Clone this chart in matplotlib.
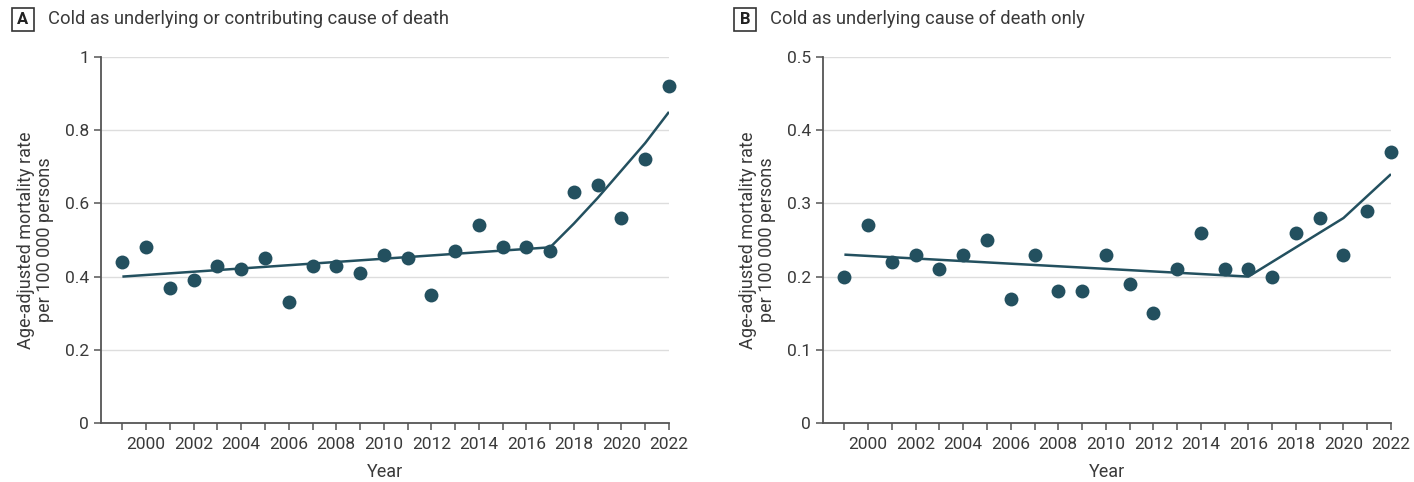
import matplotlib
matplotlib.use("Agg")
import matplotlib.pyplot as plt
from matplotlib.patches import Rectangle

plt.rcParams['font.family'] = ['Roboto', 'DejaVu Sans']

years = list(range(1999, 2023))

# Panel A: cold as underlying or contributing cause
rate_a = [0.44, 0.48, 0.37, 0.39, 0.43, 0.42, 0.45, 0.33, 0.43, 0.43, 0.41, 0.46,
          0.45, 0.35, 0.47, 0.54, 0.48, 0.48, 0.47, 0.63, 0.65, 0.56, 0.72, 0.92]
trend_a_years = [1999, 2017, 2018, 2019, 2020, 2021, 2022]
trend_a = [0.40, 0.48, 0.545, 0.615, 0.69, 0.765, 0.85]

# Panel B: cold as underlying cause only
rate_b = [0.20, 0.27, 0.22, 0.23, 0.21, 0.23, 0.25, 0.17, 0.23, 0.18, 0.18, 0.23,
          0.19, 0.15, 0.21, 0.26, 0.21, 0.21, 0.20, 0.26, 0.28, 0.23, 0.29, 0.37]
trend_b_years = [1999, 2016, 2020, 2022]
trend_b = [0.23, 0.20, 0.28, 0.34]

panels = [
    ("A", "Cold as underlying or contributing cause of death", rate_a,
     trend_a_years, trend_a, 1.0, [0, 0.2, 0.4, 0.6, 0.8, 1.0],
     ["0", "0.2", "0.4", "0.6", "0.8", "1"]),
    ("B", "Cold as underlying cause of death only", rate_b,
     trend_b_years, trend_b, 0.5, [0, 0.1, 0.2, 0.3, 0.4, 0.5],
     ["0", "0.1", "0.2", "0.3", "0.4", "0.5"]),
]

DOT = "#23505f"
AXC = "#555555"
TXT = "#3a3a3a"

fig = plt.figure(figsize=(14.14, 4.82), dpi=100)
lefts = [101 / 1414, 823 / 1414]
W, H = 1414, 482

for left, (letter, title, rates, tyears, tvals, ymax, yticks, ylabels) in zip(lefts, panels):
    ax = fig.add_axes([left, 59 / H, 568 / W, 366 / H])
    ax.set_xlim(1998.1, 2022)
    ax.set_ylim(0, ymax)
    for yt in yticks[1:]:
        ax.axhline(yt, color="#dddddd", lw=1.0, zorder=0)
    ax.plot(tyears, tvals, color=DOT, lw=1.8, zorder=2, solid_capstyle="butt")
    ax.scatter(years, rates, s=100, color=DOT, zorder=3, linewidths=0, clip_on=False)
    ax.set_xticks(years)
    ax.set_xticklabels([str(y) if y % 2 == 0 else "" for y in years])
    ax.set_yticks(yticks)
    ax.set_yticklabels(ylabels)
    for s in ["top", "right"]:
        ax.spines[s].set_visible(False)
    for s in ["left", "bottom"]:
        ax.spines[s].set_color(AXC)
        ax.spines[s].set_linewidth(1.3)
    ax.tick_params(axis="both", colors=AXC, labelcolor=TXT, labelsize=12.5,
                   length=5, width=1.1)
    ax.tick_params(axis="x", pad=5)
    ax.set_xlabel("Year", fontsize=13, color=TXT, labelpad=8)
    ax.set_ylabel("Age-adjusted mortality rate\nper 100 000 persons", fontsize=13,
                  color=TXT, labelpad=8, linespacing=1.05)

    # panel letter in a box followed by the panel title
    fx = left - 89 / W
    fig.add_artist(Rectangle((fx, 1 - 31 / H), 22 / W, 23 / H, transform=fig.transFigure,
                             fill=False, edgecolor="#333333", lw=1.2))
    fig.text(fx + 11 / W, 1 - 19.5 / H, letter, ha="center", va="center",
             fontsize=12, fontweight="bold", color="#222222")
    fig.text(fx + 36 / W, 1 - 19 / H, title, ha="left", va="center",
             fontsize=13.2, color=TXT)

fig.savefig("out.png", dpi=100)
